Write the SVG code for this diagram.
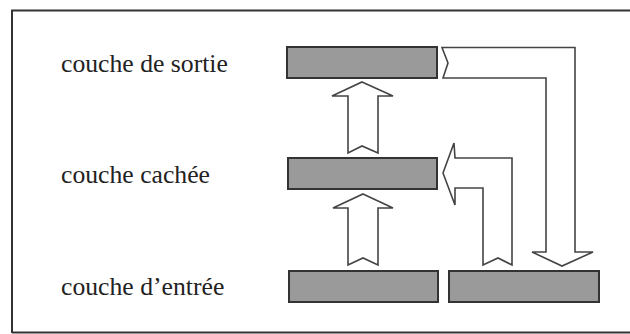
<svg xmlns="http://www.w3.org/2000/svg" width="630" height="334" viewBox="0 0 630 334">
<style>
.bar{fill:#9a9a9a;stroke:#333;stroke-width:2}
.arr{fill:#fff;stroke:#444;stroke-width:1.6;stroke-linejoin:miter}
.lbl{font-family:"Liberation Serif","Times New Roman",serif;font-size:25.7px;fill:#222}
</style>
<rect x="0" y="0" width="630" height="334" fill="#fff"/>
<path d="M12 333 V10.5 H630 M12 332.5 H630" fill="none" stroke="#333" stroke-width="2"/>
<g id="label-sortie"><text class="lbl" x="61" y="72">couche de sortie</text></g>
<g id="label-cachee"><text class="lbl" x="61" y="183">couche cachée</text></g>
<g id="label-entree"><text class="lbl" x="61" y="295">couche d’entrée</text></g>
<g id="bar-sortie"><rect class="bar" x="287" y="47" width="150" height="31"/></g>
<g id="bar-cachee"><rect class="bar" x="288" y="158" width="149" height="31"/></g>
<g id="bar-entree"><rect class="bar" x="289" y="271" width="149" height="31"/></g>
<g id="bar-entree-2"><rect class="bar" x="449" y="271" width="150" height="31"/></g>
<g id="connectors">
<path class="arr" d="M362 82 L393 96 L378 96 L378 153 L362 146 L348 153 L348 96 L332 96 Z"/>
<path class="arr" d="M363 194 L393 208 L378 208 L378 265 L363 258 L348 265 L348 208 L333 208 Z"/>
<path class="arr" d="M442 47.5 L575 47.5 L575 252 L593 252 L562 266 L532 252 L546 252 L546 78 L443 78 L448 63 Z"/>
<path class="arr" d="M443 173 L454 143 L455 158 L512 158 L512 265 L498 258 L483 265 L483 188 L455 188 L455 205 Z"/>
</g>
</svg>
